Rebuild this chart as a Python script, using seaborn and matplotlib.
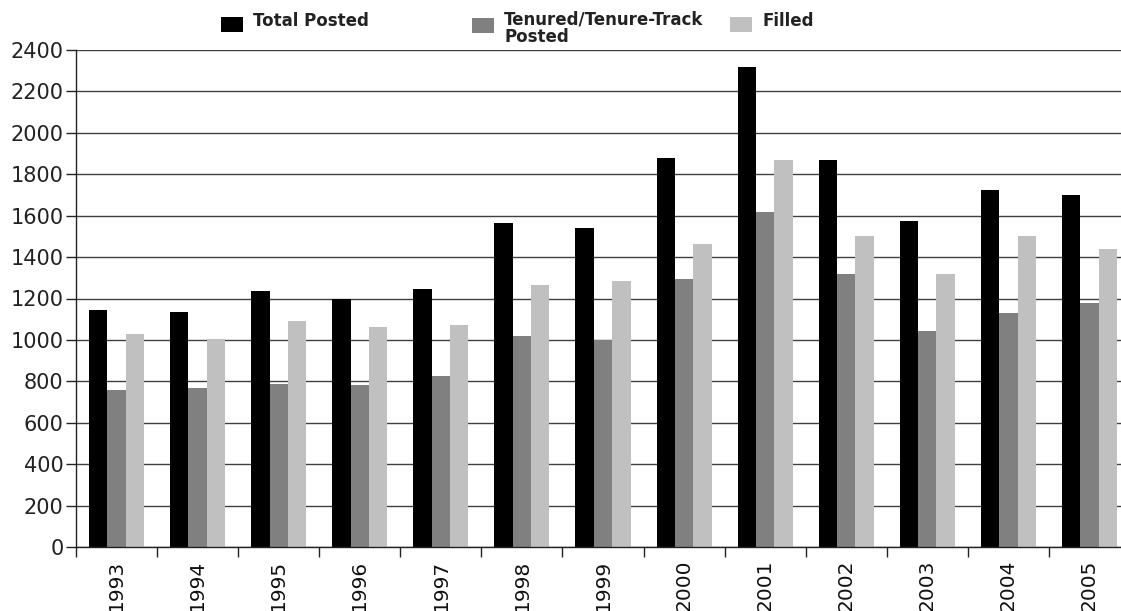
import matplotlib

matplotlib.use("Agg")

import matplotlib.pyplot as plt
import pandas as pd
import seaborn as sns
from matplotlib.legend_handler import HandlerPatch
from matplotlib.patches import Patch, Rectangle

years = ["1993", "1994", "1995", "1996", "1997", "1998", "1999",
         "2000", "2001", "2002", "2003", "2004", "2005"]
total_posted = [1145, 1135, 1235, 1200, 1245, 1565, 1540, 1880, 2320, 1870, 1575, 1725, 1700]
tenure_posted = [760, 770, 785, 780, 825, 1020, 1000, 1295, 1618, 1318, 1043, 1130, 1178]
filled = [1030, 1005, 1090, 1062, 1072, 1265, 1284, 1463, 1869, 1502, 1318, 1502, 1440]

series_names = ["Total Posted", "Tenured/Tenure-Track\nPosted", "Filled"]
colors = ["#000000", "#808080", "#c0c0c0"]

df = pd.DataFrame({
    "year": years * 3,
    "series": [series_names[0]] * 13 + [series_names[1]] * 13 + [series_names[2]] * 13,
    "value": total_posted + tenure_posted + filled,
})

sns.set_theme(style="white")
plt.rcParams["font.family"] = ["DejaVu Sans"]

fig = plt.figure(figsize=(11.21, 6.11), dpi=100)
ax = fig.add_axes([76 / 1121, 64 / 611, 1054 / 1121, 497 / 611])

sns.barplot(data=df, x="year", y="value", hue="series", palette=colors,
            width=0.68, gap=0, saturation=1, edgecolor="none", linewidth=0,
            legend=False, ax=ax)

ax.set_xlim(-0.5, 12.5)
ax.set_ylim(0, 2400)
ax.set_yticks(range(0, 2401, 200))
ax.yaxis.grid(True, color="#404040", linewidth=1.0)
ax.set_axisbelow(True)
ax.set_xlabel("")
ax.set_ylabel("")

for side in ["top", "right"]:
    ax.spines[side].set_visible(False)
for side in ["left", "bottom"]:
    ax.spines[side].set_color("#222222")
    ax.spines[side].set_linewidth(1.0)

ax.tick_params(axis="y", direction="out", length=7, width=1, color="#222222",
               labelsize=15, labelcolor="#222222", pad=2, left=True)
ax.set_xticks(range(len(years)))
ax.set_xticklabels(years, rotation=90, va="top")
ax.tick_params(axis="x", which="major", length=0, labelsize=14.5,
               labelcolor="#111111", pad=9)
ax.set_xticks([i - 0.5 for i in range(len(years))], minor=True)
ax.tick_params(axis="x", which="minor", direction="out", length=7, width=1,
               color="#222222", bottom=True)


def shifted_box(dy_px):
    dy = dy_px * 0.72

    def make(legend, orig_handle, xdescent, ydescent, width, height, fontsize):
        return Rectangle((-xdescent, -ydescent + dy), width, height)

    return HandlerPatch(patch_func=make)


# legend entries sit in the reference at fixed spots along the top
anchors = [(221, 12, -4.5), (472, 11, 4.5), (730, 12, -4.5)]
for name, color, (xpix, ypix, dy) in zip(series_names, colors, anchors):
    handle = Patch(facecolor=color, edgecolor="none")
    leg = fig.legend(handles=[handle], labels=[name],
                     loc="upper left", bbox_to_anchor=(xpix / 1121, 1 - ypix / 611),
                     frameon=False, borderpad=0, borderaxespad=0,
                     handlelength=1.32, handleheight=1.0, handletextpad=0.62,
                     labelspacing=0, prop={"weight": "bold", "size": 12},
                     handler_map={Patch: shifted_box(dy)})
    for t in leg.get_texts():
        t.set_color("#222222")
        t.set_linespacing(0.95)

fig.savefig("out.png", dpi=100)
